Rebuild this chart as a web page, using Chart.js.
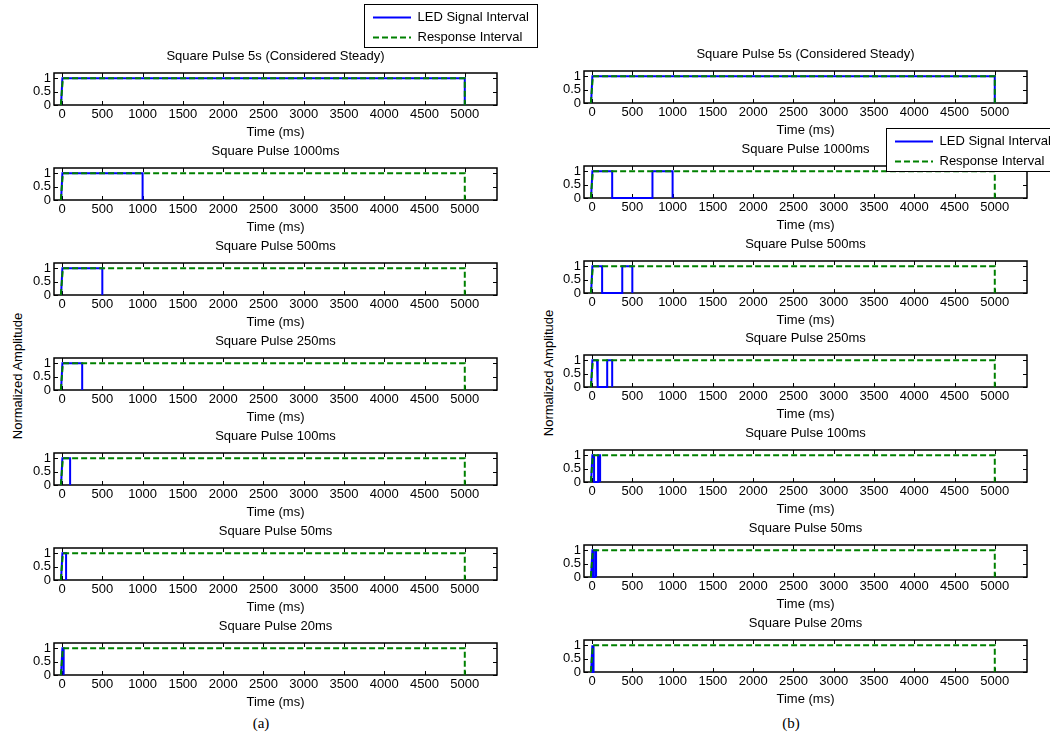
<!DOCTYPE html>
<html>
<head>
<meta charset="utf-8">
<script src="https://cdn.jsdelivr.net/npm/chart.js@4.4.1/dist/chart.umd.min.js"></script>
<style>
  html, body { margin: 0; padding: 0; background: #fff; }
  #fig { position: relative; width: 1050px; height: 737px; overflow: hidden; background: #fff; }
  #fig canvas { position: absolute; }
  .ylab { position: absolute; font: 13px "Liberation Sans", Arial, sans-serif; color: #000; white-space: nowrap;
          transform: translate(-50%, -50%) rotate(-90deg); }
  .cap { position: absolute; font: 15px "Liberation Serif", "Times New Roman", serif; color: #000;
         transform: translate(-50%, -50%); }
  .lg { z-index: 5; }
</style>
</head>
<body>
<div id="fig">
  <div class="ylab" style="left:17px;top:376px">Normalized Amplitude</div>
  <div class="ylab" style="left:548px;top:373px">Normalized Amplitude</div>
  <div class="cap" style="left:261px;top:723px">(a)</div>
  <div class="cap" style="left:791px;top:723px">(b)</div>
</div>
<script>
// axis ticks
const TIME_TICKS = [0, 500, 1000, 1500, 2000, 2500, 3000, 3500, 4000, 4500, 5000];
const AMP_TICKS = [0, 0.5, 1];

const TITLES = [
  'Square Pulse 5s (Considered Steady)',
  'Square Pulse 1000ms',
  'Square Pulse 500ms',
  'Square Pulse 250ms',
  'Square Pulse 100ms',
  'Square Pulse 50ms',
  'Square Pulse 20ms'
];

// response interval (green dashed), same in every panel
const RESP_T = [-15, 10, 5000, 5000];
const RESP_V = [0, 1, 1, 0];

// (a) one pulse per panel
const LED_A_T = [
  [-12, 4, 5000, 5000],
  [-12, 4, 1000, 1000],
  [-12, 4, 500, 500],
  [-12, 4, 250, 250],
  [-12, 4, 100, 100],
  [-12, 4, 50, 50],
  [-12, 4, 20, 20]
];
const LED_A_V = [
  [0, 1, 1, 0],
  [0, 1, 1, 0],
  [0, 1, 1, 0],
  [0, 1, 1, 0],
  [0, 1, 1, 0],
  [0, 1, 1, 0],
  [0, 1, 1, 0]
];

// (b) split pulse
const LED_B_T = [
  [-12, 4, 5000, 5000],
  [-12, 4, 250, 250, 750, 750, 1000, 1000],
  [-12, 4, 125, 125, 375, 375, 500, 500],
  [-12, 4, 62, 70, 188, 188, 250, 250],
  [-12, 4, 25, 25, 75, 75, 100, 100],
  [-12, 4, 12, 12, 38, 38, 50, 50],
  [-12, 4, 5, 5, 15, 15, 20, 20]
];
const LED_B_V = [
  [0, 1, 1, 0],
  [0, 1, 1, 0, 0, 1, 1, 0],
  [0, 1, 1, 0, 0, 1, 1, 0],
  [0, 1, 1, 0, 0, 1, 1, 0],
  [0, 1, 1, 0, 0, 1, 1, 0],
  [0, 1, 1, 0, 0, 1, 1, 0],
  [0, 1, 1, 0, 0, 1, 1, 0]
];

const LEGEND_LABELS = ['LED Signal Interval', 'Response Interval'];

Chart.defaults.font.family = '"Liberation Sans", Arial, sans-serif';
Chart.defaults.font.size = 13;
Chart.defaults.color = '#000';

const fig = document.getElementById('fig');

function addCanvas(left, top, w, h, cls) {
  const c = document.createElement('canvas');
  c.width = w; c.height = h;
  c.style.left = left + 'px';
  c.style.top = top + 'px';
  c.style.width = w + 'px';
  c.style.height = h + 'px';
  if (cls) c.className = cls;
  fig.appendChild(c);
  return c;
}

// matlab style box with inward ticks
const frame = {
  id: 'frame',
  beforeDatasetsDraw(chart) {
    const { ctx, chartArea: a, scales } = chart;
    const x = scales.x, y = scales.y;
    ctx.save();
    ctx.strokeStyle = '#000';
    ctx.lineWidth = 1;
    ctx.beginPath();
    x.ticks.forEach(t => {
      const p = Math.round(x.getPixelForValue(t.value)) + 0.5;
      ctx.moveTo(p, a.bottom); ctx.lineTo(p, a.bottom - 4);
      ctx.moveTo(p, a.top); ctx.lineTo(p, a.top + 4);
    });
    y.ticks.forEach(t => {
      const p = Math.round(y.getPixelForValue(t.value)) + 0.5;
      ctx.moveTo(a.left, p); ctx.lineTo(a.left + 4, p);
      ctx.moveTo(a.right, p); ctx.lineTo(a.right - 4, p);
    });
    ctx.stroke();
    ctx.lineWidth = 1.5;
    ctx.strokeRect(a.left, a.top, a.right - a.left, a.bottom - a.top);
    ctx.restore();
  }
};

function pts(T, V) {
  return T.map((t, k) => ({ x: t, y: V[k] }));
}

function panel(canvas, title, led, resp) {
  return new Chart(canvas, {
    type: 'line',
    data: {
      datasets: [
        { label: LEGEND_LABELS[0], data: led, borderColor: '#0000ff', borderWidth: 2,
          pointRadius: 0, tension: 0, fill: false, order: 1, clip: false },
        { label: LEGEND_LABELS[1], data: resp, borderColor: '#008000', borderWidth: 2,
          borderDash: [6, 3], pointRadius: 0, tension: 0, fill: false, order: 0, clip: false }
      ]
    },
    options: {
      responsive: false,
      animation: false,
      events: [],
      layout: { padding: 0 },
      scales: {
        x: {
          type: 'linear', min: -100, max: 5400,
          afterBuildTicks: s => { s.ticks = TIME_TICKS.map(v => ({ value: v })); },
          afterFit: s => { s.height = 38; },
          grid: { display: false, drawTicks: false, tickLength: 0 },
          border: { display: false },
          ticks: { padding: 2, maxRotation: 0, autoSkip: false, callback: v => String(v) },
          title: { display: true, text: 'Time (ms)', padding: { top: 0, bottom: 3 } }
        },
        y: {
          min: 0, max: 1.2,
          afterBuildTicks: s => { s.ticks = AMP_TICKS.map(v => ({ value: v })); },
          afterFit: s => { s.width = 50; },
          grid: { display: false, drawTicks: false, tickLength: 0 },
          border: { display: false },
          ticks: { padding: 3, autoSkip: false, callback: v => String(v) }
        },
        y2: {
          position: 'right', display: true,
          afterFit: s => { s.width = 50; },
          grid: { display: false, drawTicks: false },
          border: { display: false },
          ticks: { display: false }
        }
      },
      plugins: {
        legend: { display: false },
        tooltip: { enabled: false },
        title: { display: true, text: title, font: { size: 13, weight: 'normal' },
                 padding: { top: 0, bottom: 8.4 } }
      }
    },
    plugins: [frame]
  });
}

const COLS = [
  { left: 54, bottom0: 105, step: 95, T: LED_A_T, V: LED_A_V },
  { left: 584, bottom0: 103, step: 94.8, T: LED_B_T, V: LED_B_V }
];

COLS.forEach(col => {
  TITLES.forEach((title, i) => {
    const bottom = Math.round(col.bottom0 + col.step * i);
    const c = addCanvas(col.left - 50, bottom - 32 - 24, 543, 94);
    panel(c, title, pts(col.T[i], col.V[i]), pts(RESP_T, RESP_V));
  });
});

// legends: the legend box fills the top 44px of a 88px canvas
const LEG_H = 44;
const legendFrame = {
  id: 'legendFrame',
  beforeDraw(chart) {
    const ctx = chart.ctx;
    ctx.save();
    ctx.fillStyle = '#fff';
    ctx.fillRect(0, 0, chart.width, LEG_H);
    ctx.restore();
  },
  afterDraw(chart) {
    const ctx = chart.ctx;
    ctx.save();
    ctx.strokeStyle = '#000';
    ctx.lineWidth = 1;
    ctx.strokeRect(0.5, 0.5, chart.width - 1, LEG_H - 1);
    ctx.restore();
  }
};

function legendBox(left, top) {
  const c = addCanvas(left, top, 174, LEG_H * 2, 'lg');
  return new Chart(c, {
    type: 'line',
    data: {
      datasets: [
        { label: LEGEND_LABELS[0], data: [], borderColor: '#0000ff', borderWidth: 2 },
        { label: LEGEND_LABELS[1], data: [], borderColor: '#008000', borderWidth: 2, borderDash: [6, 3] }
      ]
    },
    options: {
      responsive: false,
      animation: false,
      events: [],
      layout: { padding: { left: 2, top: 0 } },
      scales: { x: { display: false }, y: { display: false } },
      plugins: {
        tooltip: { enabled: false },
        legend: {
          display: true, position: 'top', align: 'start', maxHeight: LEG_H,
          labels: {
            usePointStyle: true, pointStyle: 'line', pointStyleWidth: 38, padding: 7,
            generateLabels(chart) {
              const items = Chart.defaults.plugins.legend.labels.generateLabels(chart);
              items.forEach((it, k) => {
                const ds = chart.data.datasets[k];
                it.lineDash = ds.borderDash || [];
                it.lineWidth = ds.borderWidth;
                it.strokeStyle = ds.borderColor;
                it.fontColor = '#000';
              });
              return items;
            }
          }
        }
      }
    },
    plugins: [legendFrame]
  });
}

legendBox(364, 4);
legendBox(886, 128);
</script>
</body>
</html>
